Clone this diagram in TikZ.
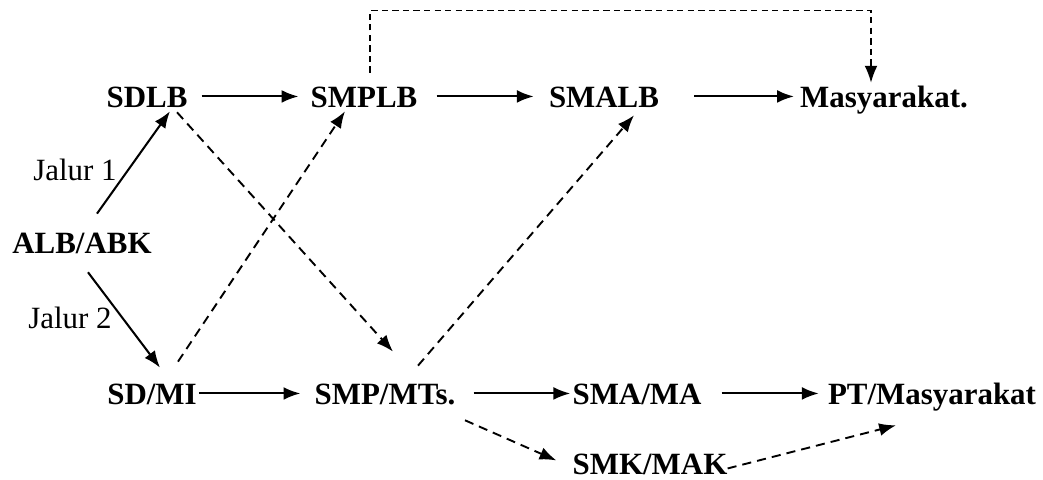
\documentclass[tikz,border=0pt]{standalone}
\usepackage{fontspec}
\setmainfont{Liberation Serif}
\usetikzlibrary{arrows.meta}

\begin{document}
\begin{tikzpicture}[x=0.025cm,y=-0.025cm,
    lbl/.style={font=\fontsize{22}{26}\selectfont\bfseries, inner sep=0pt, anchor=base, text height=15pt, text depth=0pt},
    jalur/.style={font=\fontsize{22}{26}\selectfont, inner sep=0pt},
    arr/.style={-{Latex[length=4.2mm,width=3.2mm]}, line width=1.45pt},
    darr/.style={arr, line width=1.35pt, dash pattern=on 6.5pt off 4.3pt}]
     \useasboundingbox (0,0) rectangle (1043,479);

      % draw nodes
       \node[lbl] (sdlb) at (147,107) {SDLB};
       \node[lbl] (smplb) at (364,107) {SMPLB};
       \node[lbl] (smalb) at (604,107) {SMALB};
       \node[lbl] (masy) at (884,107) {Masyarakat.};
       \node[lbl] (alb) at (82,253) {ALB/ABK};
       \node[lbl] (sdmi) at (152,404) {SD/MI};
       \node[lbl] (smp) at (385,404) {SMP/MTs.};
       \node[lbl] (sma) at (637,404) {SMA/MA};
       \node[lbl] (pt) at (932,404) {PT/Masyarakat};
       \node[lbl] (smk) at (650,474) {SMK/MAK};
       \node[jalur] (j1) at (75,170) {Jalur 1};
       \node[jalur] (j2) at (70,318) {Jalur 2};

      % draw horizontal arrows
       \draw[arr, shorten <=0.35cm, shorten >=0.3cm] (sdlb.east) -- (smplb.west);
       \draw[arr, shorten <=0.475cm, shorten >=0.375cm] (smplb.east) -- (smalb.west);
       \draw[arr, shorten <=0.875cm, shorten >=0.15cm] (smalb.east) -- (masy.west);
       \draw[arr, shorten <=0.05cm, shorten >=0.35cm] (sdmi.east) -- (smp.west);
       \draw[arr, shorten <=0.45cm, shorten >=0.05cm] (smp.east) -- (sma.west);
       \draw[arr, shorten <=0.5cm, shorten >=0.225cm] (sma.east) -- (pt.west);

      % draw jalur arrows
       \draw[arr] ([shift={(15,-18)}]alb.north) -- ([shift={(23,4)}]sdlb.south);
       \draw[arr] ([shift={(6,19)}]alb.south) -- ([shift={(8,-15)}]sdmi.north);

      % draw dashed arrows
       \draw[darr] ([shift={(26,-21)}]sdmi.north) -- ([shift={(-19,4)}]smplb.south);
       \draw[darr] ([shift={(30,5)}]sdlb.south) -- ([shift={(8,-31)}]smp.north);
       \draw[darr] ([shift={(33,-17)}]smp.north) -- ([shift={(30,8)}]smalb.south);
       \draw[darr] ([shift={(80,16)}]smp.south) -- ([shift={(-16,-3)}]smk.west);
       \draw[darr] ([shift={(0,5)}]smk.east) -- ([shift={(-36,21)}]pt.south);
       \draw[arr, line width=1pt, dash pattern=on 4.5pt off 3pt] ([shift={(6,-13)}]smplb.north) -- ++(0,-62) -| ([shift={(-13,-3)}]masy.north);

       \end{tikzpicture}
\end{document}
